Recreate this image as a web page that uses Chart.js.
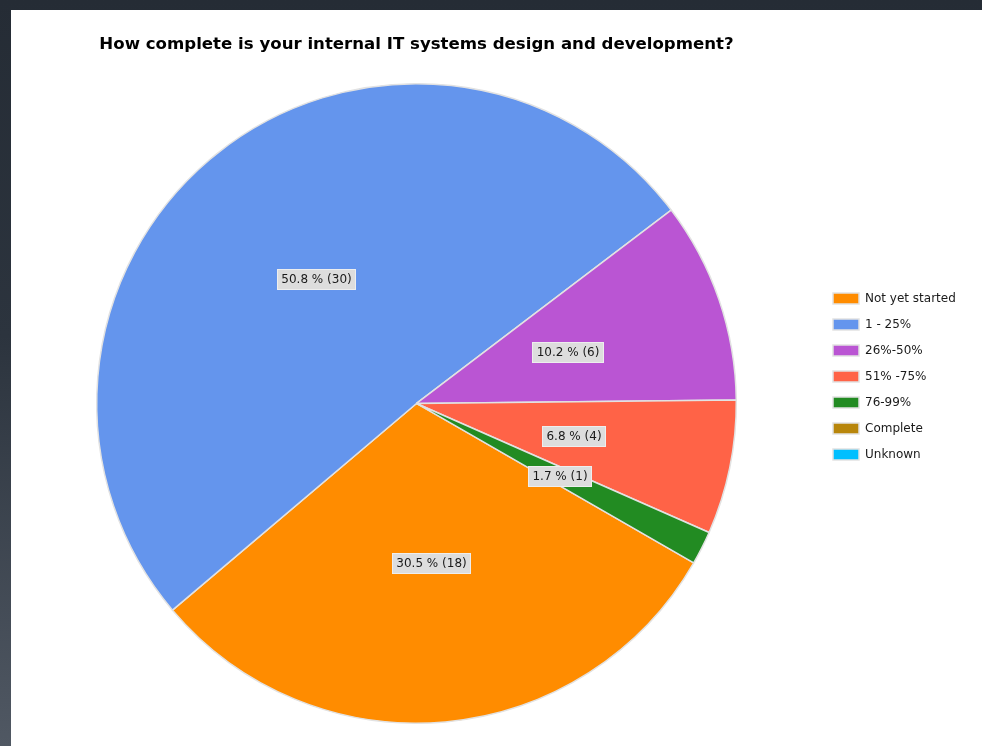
<!DOCTYPE html>
<html>
<head>
<meta charset="utf-8">
<title>IT systems design and development</title>
<script src="https://cdn.jsdelivr.net/npm/chart.js@4.4.0/dist/chart.umd.min.js"></script>
<style>
    html, body { margin: 0; padding: 0; width: 982px; height: 746px; overflow: hidden; }
    body { background: linear-gradient(to bottom, #252c35 0%, #2c343e 45%, #505863 100%); }
    .panel { position: absolute; left: 11px; top: 10px; width: 971px; height: 736px; background: #fff; }
    canvas { display: block; }
</style>
</head>
<body>
<div class="panel"><canvas id="completionChart" width="971" height="736"></canvas></div>
<script>
// Survey answers
const chartTitle = 'How complete is your internal IT systems design and development?';
const categories = ['Not yet started', '1 - 25%', '26%-50%', '51% -75%', '76-99%', 'Complete', 'Unknown'];
const responses = [18, 30, 6, 4, 1, 0, 0];
const sliceColors = ['#ff8c00', '#6495ed', '#ba55d3', '#ff6347', '#228b22', '#b8860b', '#00bfff'];

const labelFont = '12px "DejaVu Sans"';
const canvasWidth = 971;
const legendLeft = 808;   // pie area ends here, legend starts
const legendPad = 14;
const legendBox = 26;

// legend width = pad + box + gap + longest text + 10, so work out the right padding
// that keeps the legend starting at legendLeft
const measureCtx = document.createElement('canvas').getContext('2d');
measureCtx.font = labelFont;
const longestLabel = Math.max(...categories.map(c => measureCtx.measureText(c).width));
const legendWidth = legendPad + legendBox + 6 + longestLabel + 10;
const rightPad = canvasWidth - legendLeft - legendWidth;

// Boxed "pct % (count)" label in the middle of each non-empty slice
const sliceLabels = {
    id: 'sliceLabels',
    afterDatasetsDraw(chart) {
        const ctx = chart.ctx;
        const meta = chart.getDatasetMeta(0);
        const values = chart.data.datasets[0].data;
        const total = values.reduce((a, b) => a + b, 0);

        ctx.save();
        ctx.font = labelFont;
        ctx.textAlign = 'center';
        ctx.textBaseline = 'middle';
        meta.data.forEach((arc, i) => {
            if (!values[i]) return;
            const pos = arc.tooltipPosition();
            const text = (values[i] / total * 100).toFixed(1) + ' % (' + values[i] + ')';
            const w = Math.round(ctx.measureText(text).width + 8);
            const h = 20;
            const x = Math.round(pos.x - w / 2) + 0.5;
            const y = Math.round(pos.y - h / 2) + 0.5;
            ctx.fillStyle = '#dddddd';
            ctx.fillRect(x, y, w, h);
            ctx.strokeStyle = '#eeeeee';
            ctx.lineWidth = 1;
            ctx.strokeRect(x, y, w, h);
            ctx.fillStyle = '#1a1a1a';
            ctx.fillText(text, x + w / 2, y + h / 2 + 0.5);
        });
        ctx.restore();
    }
};

new Chart(document.getElementById('completionChart'), {
    type: 'pie',
    data: {
        labels: categories,
        datasets: [{
            data: responses,
            backgroundColor: sliceColors,
            borderColor: '#e2e2e2',
            borderWidth: 1.5
        }]
    },
    options: {
        responsive: false,
        animation: false,
        rotation: 119.9,
        layout: {
            padding: { left: 3, right: rightPad, top: 19, bottom: 22 }
        },
        plugins: {
            title: {
                display: true,
                text: chartTitle,
                fullSize: false,
                align: 'center',
                color: '#000',
                font: { family: 'DejaVu Sans', size: 16.6, weight: 'bold' },
                padding: { top: 6, bottom: 28 }
            },
            legend: {
                position: 'right',
                align: 'center',
                labels: {
                    boxWidth: legendBox,
                    boxHeight: 11,
                    padding: legendPad,
                    color: '#1a1a1a',
                    font: { family: 'DejaVu Sans', size: 12 }
                }
            },
            tooltip: { enabled: false }
        }
    },
    plugins: [sliceLabels]
});
</script>
</body>
</html>
